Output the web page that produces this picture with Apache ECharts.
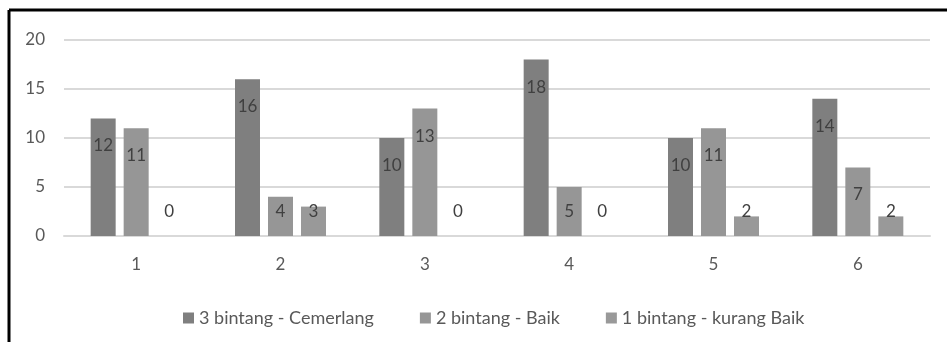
<!DOCTYPE html>
<html>
<head>
<meta charset="utf-8">
<script src="https://cdn.jsdelivr.net/npm/echarts@6/dist/echarts.min.js"></script>
<style>
  html, body { margin: 0; padding: 0; background: #fff; }
  #main { width: 947px; height: 342px; }
</style>
</head>
<body>
<div id="main"></div>
<script>
var categories = ['1', '2', '3', '4', '5', '6'];
var seriesNames = ['3 bintang - Cemerlang', '2 bintang - Baik', '1 bintang - kurang Baik'];
var cemerlang = [12, 16, 10, 18, 10, 14];
var baik = [11, 4, 13, 5, 11, 7];
var kurangBaik = [0, 3, 0, 0, 2, 2];
var colors = ['#7f7f7f', '#969696', '#999999'];

var font = 'Lato';

// label inside the top for tall bars, sitting just above the base for short ones
function labelled(values) {
  return values.map(function (v) {
    var lab = v >= 6
      ? { position: 'insideTop', distance: 19 }
      : { position: 'insideBottom', distance: 16 };
    return { value: v, label: lab };
  });
}

function makeSeries(name, values, i) {
  return {
    name: name,
    type: 'bar',
    data: labelled(values),
    barWidth: 25,
    barGap: '32%',
    itemStyle: { color: colors[i] },
    label: {
      show: true,
      color: '#404040',
      fontFamily: font,
      fontSize: 17
    }
  };
}

var myChart = echarts.init(document.getElementById('main'));
var option = {
  animation: false,
  textStyle: { fontFamily: font },
  grid: { left: 64, right: 17, top: 40, bottom: 106 },
  legend: {
    bottom: 10,
    left: 178,
    itemWidth: 11,
    itemHeight: 11,
    itemGap: 46,
    icon: 'rect',
    textStyle: { color: '#595959', fontSize: 18, fontFamily: font }
  },
  xAxis: {
    type: 'category',
    data: categories,
    axisLine: { lineStyle: { color: '#d9d9d9', width: 2 } },
    axisTick: { show: false },
    axisLabel: { color: '#595959', fontSize: 17, margin: 20, fontFamily: font }
  },
  yAxis: {
    type: 'value',
    min: 0,
    max: 20,
    interval: 5,
    axisLine: { show: false },
    axisTick: { show: false },
    splitLine: { lineStyle: { color: '#d9d9d9', width: 2 } },
    axisLabel: { color: '#595959', fontSize: 17, margin: 19, fontFamily: font }
  },
  graphic: [
    { type: 'line', shape: { x1: 9, y1: 10, x2: 947, y2: 10 }, style: { stroke: '#000', lineWidth: 3 } },
    { type: 'line', shape: { x1: 9, y1: 10, x2: 9, y2: 342 }, style: { stroke: '#000', lineWidth: 3 } }
  ],
  series: [
    makeSeries(seriesNames[0], cemerlang, 0),
    makeSeries(seriesNames[1], baik, 1),
    makeSeries(seriesNames[2], kurangBaik, 2)
  ]
};
myChart.setOption(option);
</script>
</body>
</html>
